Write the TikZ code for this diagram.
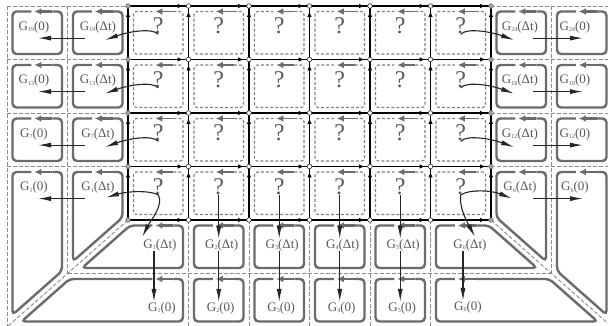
\documentclass[tikz,border=0pt]{standalone}
\usepackage{fontspec}
\setmainfont{Liberation Serif}
\usepackage{tikz}
\usetikzlibrary{arrows.meta}
\newcommand\Gsub[1]{G\raisebox{-1.5pt}{\fontsize{6}{6}\selectfont#1}}

\begin{document}
\begin{tikzpicture}[x=1pt, y=-1pt,
    cellline/.style={black!45, line width=0.9pt, dash pattern=on 4pt off 2pt},
    gridline/.style={black, line width=1.3pt},
    garr/.style={black, line width=1.3pt, -{Latex[length=6pt,width=4.5pt]}, shorten >=5pt},
    gbox/.style={black!58, line width=2.4pt, rounded corners=4pt},
    qbox/.style={black!50, line width=1.1pt, dash pattern=on 3pt off 2pt, rounded corners=3pt},
    tarr/.style={black!58, line width=2.2pt, -{Latex[length=7pt,width=6.5pt]}},
    barr/.style={black!85, line width=1.1pt, -{Latex[length=13pt,width=5pt]}},
    lbl/.style={text=black!65, inner sep=0pt, font=\fontsize{13}{13}\selectfont},
    qmark/.style={text=black!65, inner sep=0pt, font=\fontsize{24}{24}\selectfont}]
  \useasboundingbox[fill=white] (0,0) rectangle (608,326);

  % dashed cell borders outside the grid
  \draw[cellline] (7,6) -- (7,327);
  \draw[cellline] (67.5,6) -- (67.5,273.5);
  \draw[cellline] (551.5,6) -- (551.5,273.5);
  \foreach \y in {6,59.5,113,166.5} {
    \draw[cellline] (7,\y) -- (128,\y);
    \draw[cellline] (491,\y) -- (612,\y);
  }
  \draw[cellline] (67.5,273.5) -- (551.5,273.5);
  \foreach \x in {188.5,249,309.5,370,430.5}
    \draw[cellline] (\x,220) -- (\x,327);
  \draw[cellline] (128,220) -- (7,327);
  \draw[cellline] (491,220) -- (612,327);

  % boundary cells
  \foreach \x in {7,67.5,491,551.5}
    \foreach \y in {6,59.5,113} {
      \pgfmathsetmacro\c{\x+33.25}
      \draw[gbox] (\c+12,\y+5.5) -- (\x+55,\y+5.5) -- (\x+55,\y+48)
        -- (\x+5.5,\y+48) -- (\x+5.5,\y+5.5) -- (\c-9,\y+5.5);
      \draw[tarr] (\c+12,\y+5.5) -- (\c-6,\y+5.5);
    }
  \foreach \x in {188.5,249,309.5,370}
    \foreach \y in {220,273.5} {
      \pgfmathsetmacro\c{\x+33.25}
      \draw[gbox] (\c+12,\y+5.5) -- (\x+55,\y+5.5) -- (\x+55,\y+48)
        -- (\x+5.5,\y+48) -- (\x+5.5,\y+5.5) -- (\c-9,\y+5.5);
      \draw[tarr] (\c+12,\y+5.5) -- (\c-6,\y+5.5);
    }

  % corner cells, cut by the diagonals
  \draw[gbox] (52.25,172) -- (62,172) -- (62,271) -- (12.5,314.8) -- (12.5,172) -- (31.25,172);
  \draw[tarr] (52.25,172) -- (34.25,172);
  \draw[gbox] (112.75,172) -- (122.5,172) -- (122.5,217.5) -- (73,261.3) -- (73,172) -- (91.75,172);
  \draw[tarr] (112.75,172) -- (94.75,172);
  \draw[gbox] (173.25,225.5) -- (183,225.5) -- (183,268) -- (82,268) -- (130.1,225.5) -- (152.25,225.5);
  \draw[tarr] (173.25,225.5) -- (155.25,225.5);
  \draw[gbox] (173.25,279) -- (183,279) -- (183,321.5) -- (21.5,321.5) -- (69.6,279) -- (152.25,279);
  \draw[tarr] (173.25,279) -- (155.25,279);
  \draw[gbox] (536.25,172) -- (546,172) -- (546,261.3) -- (496.5,217.5) -- (496.5,172) -- (515.25,172);
  \draw[tarr] (536.25,172) -- (518.25,172);
  \draw[gbox] (596.75,172) -- (606.5,172) -- (606.5,314.8) -- (557,271) -- (557,172) -- (575.75,172);
  \draw[tarr] (596.75,172) -- (578.75,172);
  \draw[gbox] (475.75,225.5) -- (488.9,225.5) -- (537,268) -- (436,268) -- (436,225.5) -- (454.75,225.5);
  \draw[tarr] (475.75,225.5) -- (457.75,225.5);
  \draw[gbox] (475.75,279) -- (549.4,279) -- (597.5,321.5) -- (436,321.5) -- (436,279) -- (454.75,279);
  \draw[tarr] (475.75,279) -- (457.75,279);

  % unknown cells
  \foreach \j in {0,...,3}
    \foreach \i in {0,...,5} {
      \pgfmathsetmacro\L{128+60.5*\i}
      \pgfmathsetmacro\T{6+53.5*\j}
      \pgfmathsetmacro\c{\L+33.25}
      \pgfmathtruncatemacro\n{6*(3-\j)+\i+1}
      \draw[qbox] (\c+12,\T+5.5) -- (\L+55,\T+5.5) -- (\L+55,\T+48)
        -- (\L+5.5,\T+48) -- (\L+5.5,\T+5.5) -- (\c-9,\T+5.5);
      \draw[tarr, line width=1.7pt] (\c+12,\T+5.5) -- (\c-6,\T+5.5);
      \node[qmark] (q\n) at (\L+30.25,\T+20) {?};
    }

  % grid
  \foreach \j in {0,...,4}
    \draw[gridline] (128,6+53.5*\j) -- (491,6+53.5*\j);
  \foreach \i in {0,...,6}
    \draw[gridline] (128+60.5*\i,6) -- (128+60.5*\i,220);
  \foreach \i in {0,...,5}
    \foreach \j in {0,...,4}
      \draw[garr] (128+60.5*\i,6+53.5*\j) -- (188.5+60.5*\i,6+53.5*\j);
  \foreach \i in {0,...,6}
    \foreach \j in {0,...,3}
      \draw[garr] (128+60.5*\i,59.5+53.5*\j) -- (128+60.5*\i,6+53.5*\j);
  \foreach \i in {1,...,5}
    \foreach \j in {0,...,4}
      \draw[black!80, fill=white, line width=0.6pt] (128+60.5*\i,6+53.5*\j) circle[radius=2.3pt];
  \foreach \i in {0,6}
    \foreach \j in {0,...,4}
      \draw[black!55, fill=black!35, line width=0.6pt] (128+60.5*\i,6+53.5*\j) circle[radius=2.3pt];

  % labels
  \foreach \j/\n in {0/19,1/13,2/7,3/1} {
    \node[lbl] (lz\n) at (34,27+53.5*\j) {\Gsub{\n}(0)};
    \node[lbl] (ld\n) at (98,27+53.5*\j) {\Gsub{\n}(Δt)};
  }
  \foreach \j/\n in {0/24,1/18,2/12,3/6} {
    \node[lbl] (rd\n) at (520,27+53.5*\j) {\Gsub{\n}(Δt)};
    \node[lbl] (rz\n) at (575,27+53.5*\j) {\Gsub{\n}(0)};
  }
  \foreach \n/\x in {2/221.75,3/282.25,4/342.75,5/403.25} {
    \node[lbl] (bd\n) at (\x,245) {\Gsub{\n}(Δt)};
    \node[lbl] (bz\n) at (\x-1,308) {\Gsub{\n}(0)};
  }
  \node[lbl] (bd1) at (160,245) {\Gsub{1}(Δt)};
  \node[lbl] (bz1) at (162,308) {\Gsub{1}(0)};
  \node[lbl] (bd6) at (470,245) {\Gsub{6}(Δt)};
  \node[lbl] (bz6) at (468,307) {\Gsub{6}(0)};

  % transfers
  \foreach \n in {19,13,7} {
    \draw[barr] (q\n.south) .. controls +(-6,-7) and +(22,-8) .. ([xshift=7pt,yshift=-7pt]ld\n.south);
  }
  \foreach \n in {24,18,12} {
    \draw[barr] (q\n.south) .. controls +(6,-7) and +(-22,-8) .. ([xshift=-6pt,yshift=-7pt]rd\n.south);
  }
  \foreach \n in {19,13,7,1} {
    \draw[barr] ([xshift=-13pt,yshift=-5pt]ld\n.south) -- ([xshift=4pt,yshift=-5pt]lz\n.south);
  }
  \foreach \n in {24,18,12,6} {
    \draw[barr] ([xshift=13pt,yshift=-5pt]rd\n.south) -- ([xshift=8pt,yshift=-5pt]rz\n.south);
  }
  \draw[barr] (q1.south) .. controls +(-10,-5) and +(20,-6) .. ([xshift=8pt,yshift=-4pt]ld1.south);
  \draw[barr] (q1.south) .. controls +(6,10) and +(8,-16) .. ([xshift=-1pt,yshift=2pt]bd1.north west);
  \draw[barr] (q6.south) .. controls +(10,-6) and +(-20,-8) .. ([xshift=-8pt,yshift=-5pt]rd6.south);
  \draw[barr] (q6.south) .. controls +(-2,12) and +(-8,-15) .. ([xshift=5pt,yshift=2pt]bd6.north);
  \foreach \n in {2,3,4,5} {
    \draw[barr] (q\n.south) -- (q\n.south |- bd\n.north);
    \draw[barr] (q\n.south |- bd\n.south) -- (q\n.south |- bz\n.north);
  }
  \draw[barr] ([xshift=-6pt]bd1.south) -- ([xshift=-8pt]bz1.north);
  \draw[barr] ([xshift=-7pt]bd6.south) -- ([xshift=-5pt]bz6.north);
\end{tikzpicture}
\end{document}
